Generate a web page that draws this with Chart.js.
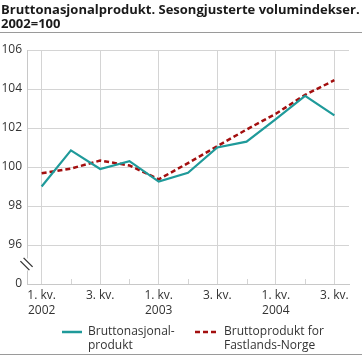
<!DOCTYPE html>
<html>
<head>
<meta charset="utf-8">
<script src="https://cdn.jsdelivr.net/npm/chart.js@4.4.0/dist/chart.umd.min.js"></script>
<style>
  html, body { margin: 0; padding: 0; background: #fff; }
  body { width: 362px; height: 357px; position: relative; overflow: hidden; font-family: "Open Sans", sans-serif; color: #222; }
  #title { position: absolute; left: 1px; top: 3px; font-weight: 700; font-size: 13px; line-height: 13.5px; color: #1a1a1a; white-space: nowrap; }
  #rule1 { position: absolute; left: 0; top: 32px; width: 362px; height: 1px; background: #9a9a9a; }
  #rule2 { position: absolute; left: 0; top: 354px; width: 362px; height: 1px; background: #9a9a9a; }
  #wrap { position: absolute; left: 0; top: 0; width: 362px; height: 357px; }
  .leg { position: absolute; font-size: 12px; line-height: 14px; color: #333; white-space: nowrap; }
  .sym { position: absolute; }
</style>
</head>
<body>
<div id="wrap"><canvas id="c"></canvas></div>
<div id="title"></div>
<div id="rule1"></div>
<div id="rule2"></div>
<svg class="sym" style="left:62px;top:329px" width="22" height="6"><line id="s1" x1="0" y1="3" x2="20" y2="3" stroke-width="2.5"/></svg>
<div class="leg" id="l1" style="left:88px;top:324px"></div>
<svg class="sym" style="left:195px;top:329px" width="24" height="6"><line id="s2" x1="0" y1="3" x2="22" y2="3" stroke-width="2.5" stroke-dasharray="5,3"/></svg>
<div class="leg" id="l2" style="left:224px;top:324px"></div>
<script>
const titleLines = ["Bruttonasjonalprodukt. Sesongjusterte volumindekser.", "2002=100"];
const categories = ["2002K1","2002K2","2002K3","2002K4","2003K1","2003K2","2003K3","2003K4","2004K1","2004K2","2004K3"];
const tickLabels = [["1. kv.","2002"],"",["3. kv."],"",["1. kv.","2003"],"",["3. kv."],"",["1. kv.","2004"],"",["3. kv."]];
const bnp = [99.0, 100.85, 99.9, 100.3, 99.25, 99.7, 101.0, 101.3, 102.45, 103.65, 102.65];
const fastland = [99.68, 99.92, 100.33, 100.08, 99.37, 100.2, 101.07, 101.92, 102.73, 103.7, 104.45];
const seriesNames = ["Bruttonasjonal-\nprodukt", "Bruttoprodukt for\nFastlands-Norge"];
const seriesColors = ["#1f9a9a", "#a30f0f"];
const yTickLabelOverride = {94: "0"};

document.getElementById('title').innerHTML = titleLines.join('<br>');
document.getElementById('l1').innerHTML = seriesNames[0].replace('\n','<br>');
document.getElementById('l2').innerHTML = seriesNames[1].replace('\n','<br>');
document.getElementById('s1').setAttribute('stroke', seriesColors[0]);
document.getElementById('s2').setAttribute('stroke', seriesColors[1]);

const gridColor = '#d4d4d4';
const extras = {
  id: 'extras',
  afterDraw(chart) {
    const ctx = chart.ctx;
    const xs = chart.scales.x, ys = chart.scales.y;
    const bottom = chart.chartArea.bottom;
    ctx.save();
    ctx.strokeStyle = gridColor;
    ctx.lineWidth = 1;
    for (let i = 1; i < categories.length; i += 2) {
      const x = Math.round(xs.getPixelForValue(i)) + 0.5;
      ctx.beginPath(); ctx.moveTo(x, bottom - 5); ctx.lineTo(x, bottom); ctx.stroke();
    }
    const yb = (ys.getPixelForValue(96) + ys.getPixelForValue(94)) / 2;
    const xa = chart.chartArea.left;
    ctx.fillStyle = '#fff';
    ctx.fillRect(xa - 2, yb - 6, 4, 12);
    ctx.strokeStyle = '#333';
    ctx.lineWidth = 1.3;
    for (const d of [-1.6, 1.6]) {
      ctx.beginPath();
      ctx.moveTo(xa - 5 + d, yb - 5 - d);
      ctx.lineTo(xa + 4 + d, yb + 4 - d);
      ctx.stroke();
    }
    ctx.restore();
  }
};

new Chart(document.getElementById('c'), {
  type: 'line',
  data: {
    labels: categories,
    datasets: [
      { label: seriesNames[0], data: bnp, borderColor: seriesColors[0], backgroundColor: seriesColors[0], borderWidth: 2.2, pointRadius: 0, tension: 0, fill: false },
      { label: seriesNames[1], data: fastland, borderColor: seriesColors[1], backgroundColor: seriesColors[1], borderWidth: 2.5, borderDash: [5, 3], pointRadius: 0, tension: 0, fill: false }
    ]
  },
  options: {
    responsive: true,
    maintainAspectRatio: false,
    animation: false,
    layout: { padding: { left: 0, right: 13, top: 50, bottom: 0 } },
    plugins: { legend: { display: false }, title: { display: false }, tooltip: { enabled: false } },
    scales: {
      x: {
        type: 'category',
        offset: true,
        grid: {
          offset: false,
          drawTicks: false,
          color: (c) => (c.index % 2 === 0 ? gridColor : 'rgba(0,0,0,0)'),
          lineWidth: 1
        },
        border: { display: true, color: '#c8c8c8', width: 1 },
        ticks: {
          autoSkip: false, maxRotation: 0, minRotation: 0, padding: 4,
          color: '#333',
          font: { family: 'Open Sans', size: 12, lineHeight: 1.25 },
          callback: (v, i) => tickLabels[i]
        },
        afterFit: (s) => { s.height = 73; }
      },
      y: {
        min: 94, max: 106,
        grid: { color: gridColor, drawTicks: false, lineWidth: 1 },
        border: { display: true, color: '#c8c8c8', width: 1 },
        ticks: {
          stepSize: 2, padding: 5, color: '#333',
          font: { family: 'Open Sans', size: 12 },
          callback: (v) => (yTickLabelOverride[v] !== undefined ? yTickLabelOverride[v] : String(v))
        },
        afterFit: (s) => { s.width = 27; }
      }
    }
  },
  plugins: [extras]
});
</script>
</body>
</html>
